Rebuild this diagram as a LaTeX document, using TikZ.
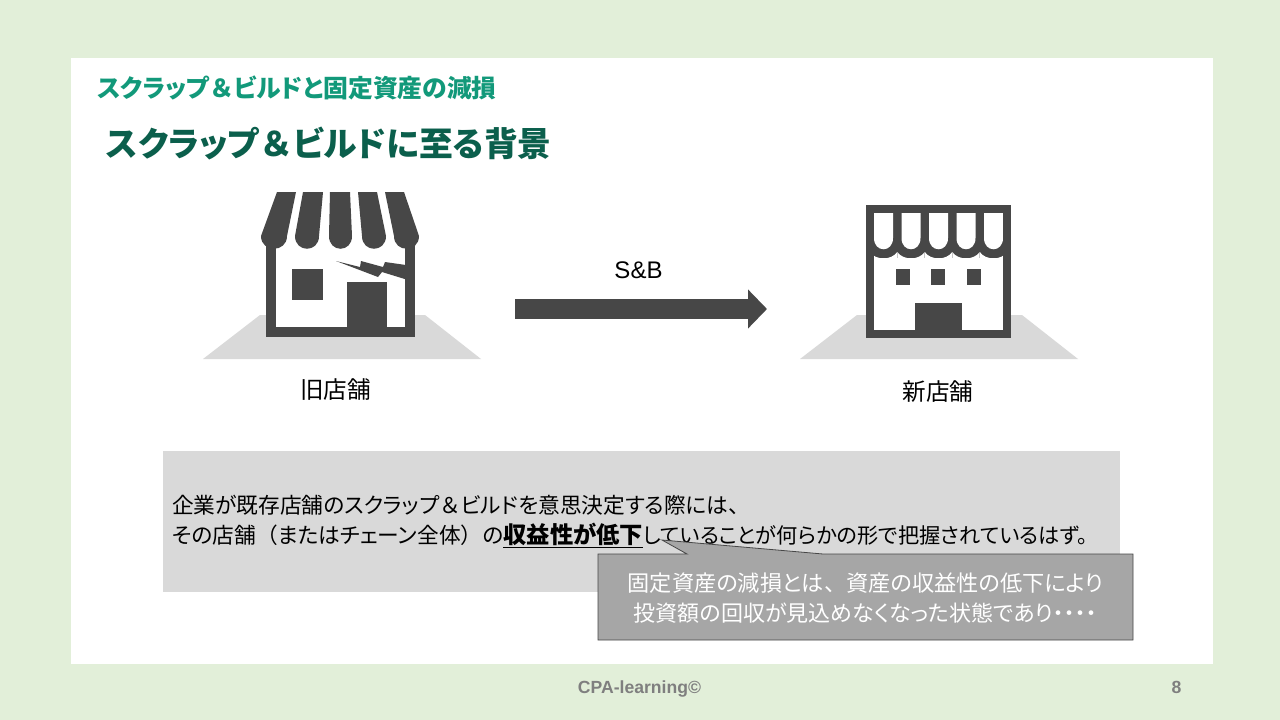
\documentclass[tikz,border=0pt]{standalone}
\usepackage{fontspec}
\setmainfont{Noto Sans CJK JP}[RawFeature=+palt]
\newfontfamily\fullcjk{Noto Sans CJK JP}
\newfontfamily\latinfont{Liberation Sans}
\usetikzlibrary{positioning,arrows.meta}
\definecolor{pagegreen}{HTML}{E2EFD9}
\definecolor{titlegreen}{HTML}{12997A}
\definecolor{headgreen}{HTML}{0B5F4C}
\definecolor{icongray}{HTML}{474747}
\definecolor{groundgray}{HTML}{D9D9D9}
\definecolor{calloutgray}{HTML}{A6A6A6}
\definecolor{footgray}{HTML}{7F7F7F}
\newcommand{\fw}[1]{{\fullcjk #1}}
\tikzset{
  icon/.style = { fill = icongray, draw = none },
  ground/.style = { fill = groundgray, draw = none },
  label/.style = { inner sep = 0pt, font = \fontsize{23.6}{27}\selectfont, text = black },
  foot/.style = { inner sep = 0pt, anchor = base, text = footgray, font = \latinfont\bfseries\fontsize{17.6}{20}\selectfont }
}
\begin{document}
\begin{tikzpicture}[x = 1pt, y = -1pt]
      \useasboundingbox (0,0) rectangle (1280,720);
      \fill[pagegreen] (0,0) rectangle (1280,720);
      \fill[white] (71,58) rectangle (1213,664);

      \node[inner sep = 0pt, anchor = west, text = titlegreen, font = \bfseries\fontsize{24.8}{30}\selectfont] (subject) at (97,88) {スクラップ\fw{＆}ビルドと固定資産の減損};
      \node[inner sep = 0pt, anchor = west, text = headgreen, font = \bfseries\fontsize{33.8}{40}\selectfont] (heading) at (106,144) {スクラップ\fw{＆}ビルドに至る背景};

      % old shop
      \fill[ground] (260,315) -- (425,315) -- (481,359) -- (203,359) -- cycle;
      \fill[icon] (266,240) rectangle (415,337);
      \fill[white] (276,238) rectangle (405,327);
      \fill[icon] (292,269) rectangle (323,300);
      \fill[icon] (347,282) rectangle (387,327);
      \fill[icon] (336,261) -- (360,267) -- (361,261) -- (383,267) -- (385,262) -- (406,265)
        -- (408,280) -- (382,272) -- (378,277) -- cycle;
      \foreach \ta/\tb/\ba/\bb in {277/296/261/287, 303/323/295/319, 330/350/329/352, 358/377/362/386, 385/404/394/419} {
        \fill[icon] (\ta,192) -- (\tb,192) -- (\bb,236) .. controls (\bb,253) and (\ba,253) .. (\ba,236) -- cycle;
      }

      % new shop
      \fill[ground] (857,315) -- (1022,315) -- (1078,359) -- (800,359) -- cycle;
      \fill[icon] (866,205) rectangle (1011,338);
      \fill[white] (874,258) -- (874,330) -- (1003,330) -- (1003,258) -- cycle;
      \foreach \c in {883.5, 911, 938.5, 966, 993.5} {
        \fill[white] (\c-13.7,252) .. controls (\c-8,260.5) and (\c+8,260.5) .. (\c+13.7,252) -- (\c+13.7,259) -- (\c-13.7,259) -- cycle;
        \fill[white] (\c-9.5,213) -- (\c-9.5,238) .. controls (\c-9.5,253) and (\c+9.5,253) .. (\c+9.5,238) -- (\c+9.5,213) -- cycle;
      }
      \draw[icongray, line width = 8pt] (870,209) rectangle (1007,334);
      \foreach \w in {896, 931, 967} {
        \fill[icon] (\w,269) rectangle (\w+14,285);
      }
      \fill[icon] (915,303) rectangle (962,338);

      \node[label] (oldlabel) at (335.5,390) {旧店舗};
      \node[label] (newlabel) at (938,392) {新店舗};
      \coordinate (arrowstart) at (515,309);
      \coordinate (arrowend) at (767,309);
      \draw[icongray, line width = 20pt, -{Triangle[length = 19pt, width = 38pt]}] (arrowstart) -- (arrowend);
      \node[inner sep = 0pt, text = black, font = \latinfont\fontsize{24}{28}\selectfont] (sbtext) at (638.5,270) {S\&B};

      \node[fill = groundgray, inner sep = 0pt, inner xsep = 9pt, anchor = north west, minimum height = 141pt, text width = 939pt, align = left, font = \fontsize{21.7}{30}\selectfont] (reason) at (163,451)
        {企業が既存店舗のスクラップ\fw{＆}ビルドを意思決定する際には\fw{、}\\
         その店舗\fw{（}またはチェーン全体\fw{）}の\underline{\fullcjk\bfseries\fontsize{23.3}{30}\selectfont 収益性が低下}{\fontsize{21.2}{30}\selectfont していることが何らかの形で把握されているはず。}};

      \fill[calloutgray, draw = icongray, line width = .8pt] (598,554) -- (687,554) -- (662,540) -- (823,554) -- (1133,554) -- (1133,640) -- (598,640) -- cycle;
      \node[inner sep = 0pt, text = white, align = center, font = \fontsize{22}{30.5}\selectfont] (impairment) at (865.5,598)
        {{\fontsize{22.2}{30.5}\selectfont 固定資産の減損とは\fw{、}資産の収益性の低下により}\\
         投資額の回収が見込めなくなった状態であり・・・・};

      \node[foot] (copyright) at (639.5,693) {CPA-learning©};
      \node[foot] (pageno) at (1176.5,693) {8};
\end{tikzpicture}
\end{document}
